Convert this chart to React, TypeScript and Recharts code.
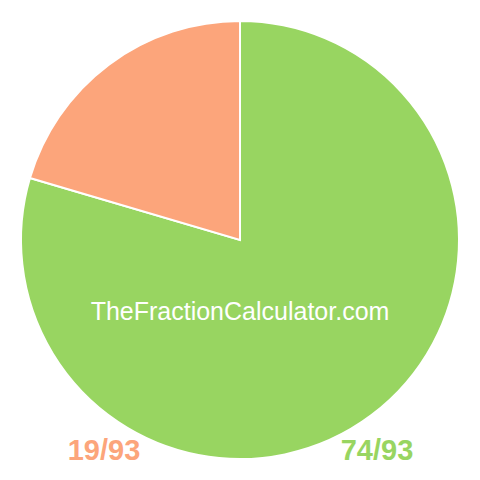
import { Cell, Pie, PieChart } from "recharts";

// Fraction shares, clockwise from 12 o'clock
const SLICE_NAMES = ["74/93", "19/93"];
const SLICE_VALUES = [74, 19];
const SLICE_COLORS = ["#98D561", "#FCA57B"];
const WATERMARK = "TheFractionCalculator.com";

const FONT = '"Liberation Sans", Arial, Helvetica, sans-serif';

const data = SLICE_NAMES.map((name, i) => ({ name, value: SLICE_VALUES[i] }));

export default function App() {
  return (
    <div style={{ position: "fixed", left: 0, top: 0, width: 480, height: 480, background: "#fff" }}>
      <PieChart width={480} height={480} margin={{ top: 0, right: 0, bottom: 0, left: 0 }}>
        <Pie
          data={data}
          dataKey="value"
          nameKey="name"
          cx={240}
          cy={240}
          outerRadius={219}
          startAngle={90}
          endAngle={-270}
          stroke="#fff"
          strokeWidth={2}
          isAnimationActive={false}
        >
          {data.map((d, i) => (
            <Cell key={d.name} fill={SLICE_COLORS[i]} />
          ))}
        </Pie>
      </PieChart>
      <svg width={480} height={480} style={{ position: "absolute", left: 0, top: 0, pointerEvents: "none" }}>
        <text x={240} y={320} textAnchor="middle" fill="#fff" fontFamily={FONT} fontSize={25}>
          {WATERMARK}
        </text>
        <text x={104} y={460} textAnchor="middle" fill={SLICE_COLORS[1]} fontFamily={FONT} fontSize={29} fontWeight="bold">
          {SLICE_NAMES[1]}
        </text>
        <text x={377} y={460} textAnchor="middle" fill={SLICE_COLORS[0]} fontFamily={FONT} fontSize={29} fontWeight="bold">
          {SLICE_NAMES[0]}
        </text>
      </svg>
    </div>
  );
}
